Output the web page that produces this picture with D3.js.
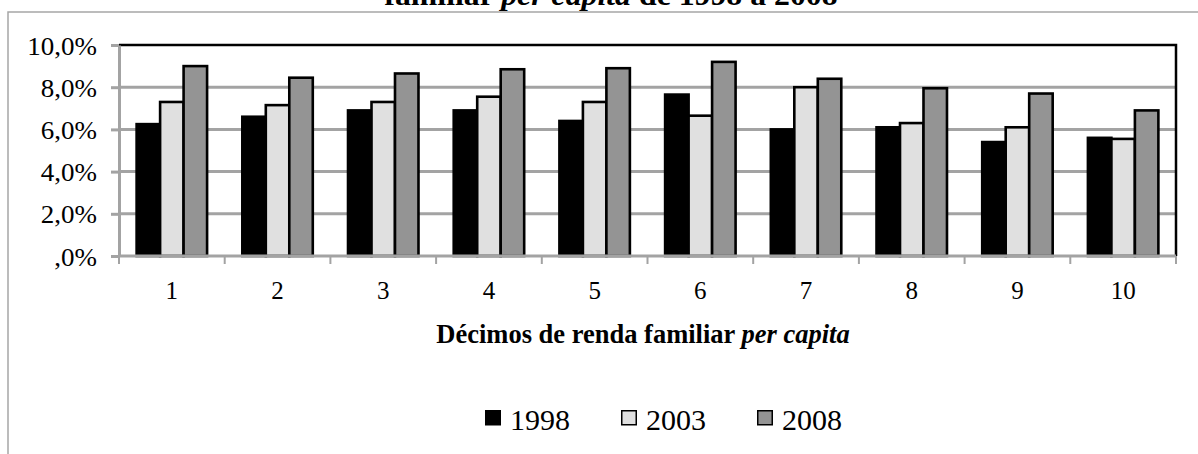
<!DOCTYPE html>
<html>
<head>
<meta charset="utf-8">
<script src="https://cdn.jsdelivr.net/npm/d3@7"></script>
<style>
  body { margin: 0; background: #fff; }
  svg { display: block; }
  svg text { font-family: "Liberation Serif", "Times New Roman", serif; fill: #000; }
</style>
</head>
<body>
<div id="chart"></div>
<script>
// Data

const categories = ["1", "2", "3", "4", "5", "6", "7", "8", "9", "10"];
const series = ["1998", "2003", "2008"];
const values1998 = [6.25, 6.6, 6.9, 6.9, 6.4, 7.65, 6.0, 6.1, 5.4, 5.6];
const values2003 = [7.3, 7.15, 7.3, 7.55, 7.3, 6.65, 8.0, 6.3, 6.1, 5.55];
const values2008 = [9.0, 8.45, 8.65, 8.85, 8.9, 9.2, 8.4, 7.95, 7.7, 6.9];
const yTicks = [0, 2, 4, 6, 8, 10];
const xTitle = "Décimos de renda familiar ";
const xTitleItalic = "per capita";

const valuesBySeries = [values1998, values2003, values2008];
const colors = ["#000000", "#e0e0e0", "#949494"];

// Core chart

const width = 1198;
const height = 454;
const margin = { top: 45, left: 119, right: 22, bottom: 198 };
const gridColor = "#a3a3a3";

const svg = d3
  .select("#chart")
  .append("svg")
  .attr("width", width)
  .attr("height", height);

// outer frame of the chart object (runs off the right and bottom edges)
svg
  .append("path")
  .attr("d", `M8,${height + 5} V12 H${width + 5}`)
  .attr("fill", "none")
  .attr("stroke", "#a6a6a6")
  .attr("stroke-width", 1.5);

// last line of the document title, cut at the top of the picture
const title = svg
  .append("text")
  .attr("transform", "translate(611, 5) scale(1.06, 1)")
  .attr("text-anchor", "middle")
  .style("font-size", "30px")
  .style("font-weight", "bold");
title.append("tspan").text("familiar ");
title.append("tspan").style("font-style", "italic").text("per capita");
title.append("tspan").text(" de 1998 a 2008");

const xScale = d3
  .scaleBand()
  .domain(categories)
  .range([margin.left, width - margin.right]);

const xInner = d3
  .scaleBand()
  .domain(series)
  .range([0, xScale.bandwidth()])
  .paddingOuter(0.75);

const yScale = d3
  .scaleLinear()
  .domain([0, 10])
  .range([height - margin.bottom, margin.top]);

const pct = (v) => (v === 0 ? ",0%" : d3.format(".1f")(v).replace(".", ",") + "%");

// Grid

svg
  .append("g")
  .selectAll("line")
  .data(yTicks.filter((d) => d > 0 && d < 10))
  .enter()
  .append("line")
  .attr("x1", margin.left)
  .attr("x2", width - margin.right)
  .attr("y1", (d) => yScale(d))
  .attr("y2", (d) => yScale(d))
  .attr("stroke", gridColor)
  .attr("stroke-width", 3);

// plot area border: top and right in black
svg
  .append("path")
  .attr("d", `M${margin.left},${yScale(10)} H${width - margin.right} V${yScale(0)}`)
  .attr("fill", "none")
  .attr("stroke", "#000")
  .attr("stroke-width", 2.5);

// Bars

const groups = svg
  .append("g")
  .selectAll("g")
  .data(categories)
  .enter()
  .append("g")
  .attr("transform", (d) => `translate(${xScale(d)}, 0)`);

groups
  .selectAll("rect")
  .data((d, i) => series.map((s, j) => ({ s: s, j: j, v: valuesBySeries[j][i] })))
  .enter()
  .append("rect")
  .attr("x", (d) => xInner(d.s))
  .attr("y", (d) => yScale(d.v))
  .attr("width", xInner.bandwidth())
  .attr("height", (d) => yScale(0) - yScale(d.v))
  .style("fill", (d) => colors[d.j])
  .style("stroke", "black")
  .style("stroke-width", 2.6);

// Axis

const yAxis = svg
  .append("g")
  .attr("transform", `translate(${margin.left}, 0)`)
  .call(d3.axisLeft(yScale).tickValues(yTicks).tickFormat(pct).tickSize(8).tickSizeOuter(0))
  .attr("font-family", null)
  .attr("font-size", null);

yAxis.select(".domain").attr("stroke", gridColor).attr("stroke-width", 3);
yAxis.selectAll(".tick line").attr("stroke", gridColor).attr("stroke-width", 3);
yAxis
  .selectAll(".tick text")
  .attr("x", -22 / 1.08)
  .attr("dy", "0.36em")
  .attr("transform", "scale(1.08, 1)")
  .style("font-size", "25px");

// x axis: line, ticks between categories, labels centred
svg
  .append("line")
  .attr("x1", margin.left)
  .attr("x2", width - margin.right)
  .attr("y1", yScale(0))
  .attr("y2", yScale(0))
  .attr("stroke", gridColor)
  .attr("stroke-width", 3);

svg
  .append("g")
  .selectAll("line")
  .data(categories.map((c) => xScale(c)).concat([width - margin.right]))
  .enter()
  .append("line")
  .attr("x1", (d) => d)
  .attr("x2", (d) => d)
  .attr("y1", yScale(0))
  .attr("y2", yScale(0) + 8)
  .attr("stroke", gridColor)
  .attr("stroke-width", 2);

svg
  .append("g")
  .selectAll("text")
  .data(categories)
  .enter()
  .append("text")
  .attr("x", (d) => xScale(d) + xScale.bandwidth() / 2)
  .attr("y", 299)
  .attr("text-anchor", "middle")
  .style("font-size", "25px")
  .text((d) => d);

const xLabel = svg
  .append("text")
  .attr("x", 643)
  .attr("y", 343)
  .attr("text-anchor", "middle")
  .style("font-size", "26.5px")
  .style("font-weight", "bold");
xLabel.append("tspan").text(xTitle);
xLabel.append("tspan").style("font-style", "italic").text(xTitleItalic);

// Legend

const legend = svg
  .append("g")
  .selectAll("g")
  .data(series)
  .enter()
  .append("g")
  .attr("transform", (d, i) => `translate(${485 + i * 136}, 410)`);

legend
  .append("rect")
  .attr("x", 0.75)
  .attr("y", 0.75)
  .attr("width", 14.5)
  .attr("height", 14)
  .style("fill", (d, i) => colors[i])
  .style("stroke", "black")
  .style("stroke-width", 1.5);

legend
  .append("text")
  .attr("x", 25)
  .attr("y", 20)
  .style("font-size", "30px")
  .text((d) => d);
</script>
</body>
</html>
